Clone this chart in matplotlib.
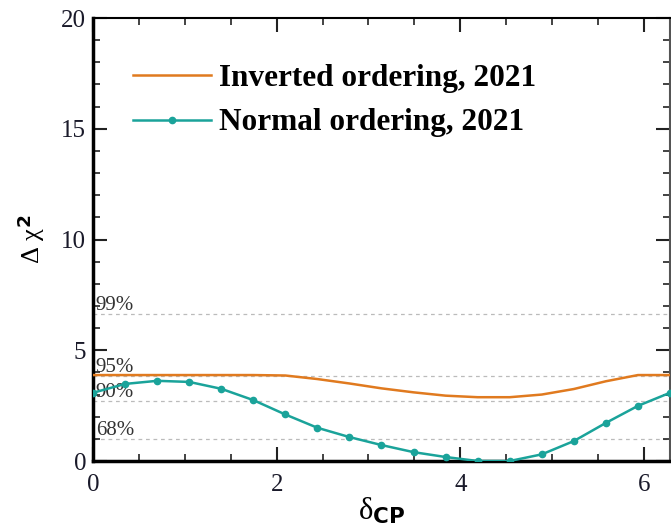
import numpy as np
import matplotlib.pyplot as plt
from matplotlib.ticker import MultipleLocator

plt.rcParams['font.family'] = ['Liberation Serif', 'DejaVu Serif']
plt.rcParams['mathtext.fontset'] = 'custom'
plt.rcParams['mathtext.rm'] = 'Liberation Serif'
plt.rcParams['mathtext.it'] = 'Liberation Serif'
plt.rcParams['mathtext.bf'] = 'DejaVu Sans:bold'

# delta_CP grid (19 points over 0..2pi)
dcp = np.linspace(0, 2 * np.pi, 19)

chi2_io = [3.88, 3.88, 3.88, 3.88, 3.88, 3.88, 3.86, 3.7, 3.5, 3.28,
           3.1, 2.95, 2.88, 2.88, 3.0, 3.25, 3.6, 3.88, 3.88]
chi2_no = [3.08, 3.48, 3.62, 3.57, 3.26, 2.75, 2.1, 1.5, 1.08, 0.72,
           0.4, 0.18, 0.0, 0.0, 0.3, 0.9, 1.72, 2.49, 3.08]

cl_labels = ['99%', '95%', '90%', '68%']
cl_values = [6.63, 3.84, 2.71, 1.0]

orange = '#e07a1f'
teal = '#1aa39a'

fig = plt.figure(figsize=(6.71, 5.25), dpi=100)
ax = fig.add_axes([0.1386, 0.1219, 0.8599, 0.8438])

for lab, v in zip(cl_labels, cl_values):
    ax.axhline(v, color='#bbbbbb', lw=0.9, ls=(0, (3, 3)), zorder=1)
    ax.text(0.03, v - 0.05, lab, fontsize=15, color='#333333', va='bottom', ha='left')

ax.plot(dcp, chi2_io, color=orange, lw=1.8, label='Inverted ordering, 2021', zorder=3)
ax.plot(dcp, chi2_no, color=teal, lw=1.8, marker='o', ms=4.5, label='Normal ordering, 2021', zorder=4)

ax.set_xlim(0, 2 * np.pi)
ax.set_ylim(0, 20)
ax.xaxis.set_major_locator(MultipleLocator(2))
ax.xaxis.set_minor_locator(MultipleLocator(0.5))
ax.yaxis.set_major_locator(MultipleLocator(5))
ax.yaxis.set_minor_locator(MultipleLocator(1))
ax.tick_params(which='both', direction='in', top=True, right=True, labelsize=18, colors='#222222')
ax.tick_params(which='major', length=10, width=1.5)
ax.tick_params(which='minor', length=5, width=1.2)
ax.tick_params(axis='y', pad=5, labelcolor='#1a1a2a')
ax.tick_params(axis='x', pad=9, labelcolor='#1a1a2a')

ax.spines['left'].set_linewidth(2.5)
ax.spines['bottom'].set_linewidth(2.5)
ax.spines['top'].set_linewidth(1.5)
ax.spines['right'].set_linewidth(1.5)
ax.spines['right'].set_color('#555555')

ax.set_xlabel(r'$\delta_{\mathbf{CP}}$', fontsize=22, labelpad=0)
ax.set_ylabel(r'$\Delta\ \chi^{\mathbf{2}}$', fontsize=19, labelpad=10)

leg = ax.legend(loc='upper left', bbox_to_anchor=(0.02, 0.96), frameon=False,
                prop={'family': 'Liberation Serif', 'weight': 'bold', 'size': 22.5},
                handlelength=2.5, handletextpad=0.26, labelspacing=0.5)

fig.savefig('out.png', dpi=100)
